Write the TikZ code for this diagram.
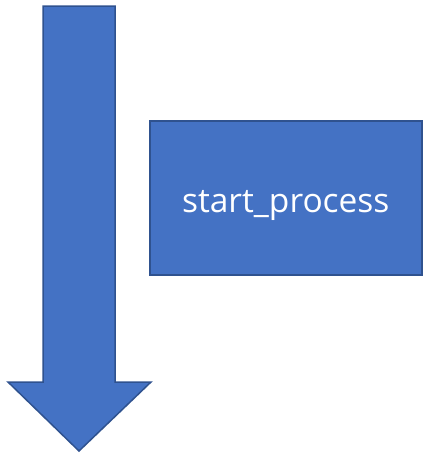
\documentclass[tikz,border=0pt]{standalone}
\usepackage{fontspec}
\setmainfont{Open Sans}
\definecolor{fillblue}{HTML}{4472C4}
\definecolor{edgeblue}{HTML}{2F528F}
\begin{document}
\begin{tikzpicture}[x=1pt,y=-1pt,
  shape style/.style={fill=fillblue,draw=edgeblue,line width=1.5pt,line join=miter}]
\useasboundingbox (0,0) rectangle (423,453);
\draw[shape style] (43,6) -- (115,6) -- (115,382) -- (151,382) -- (79,451) -- (8,382) -- (43,382) -- cycle;
\node[shape style,minimum width=272pt,minimum height=154pt,inner sep=0pt,anchor=north west,
  text=white,text height=30pt,text depth=0pt,font=\fontsize{33.5}{40}\selectfont] (proc) at (149,120) {start\_process};
\end{tikzpicture}
\end{document}
